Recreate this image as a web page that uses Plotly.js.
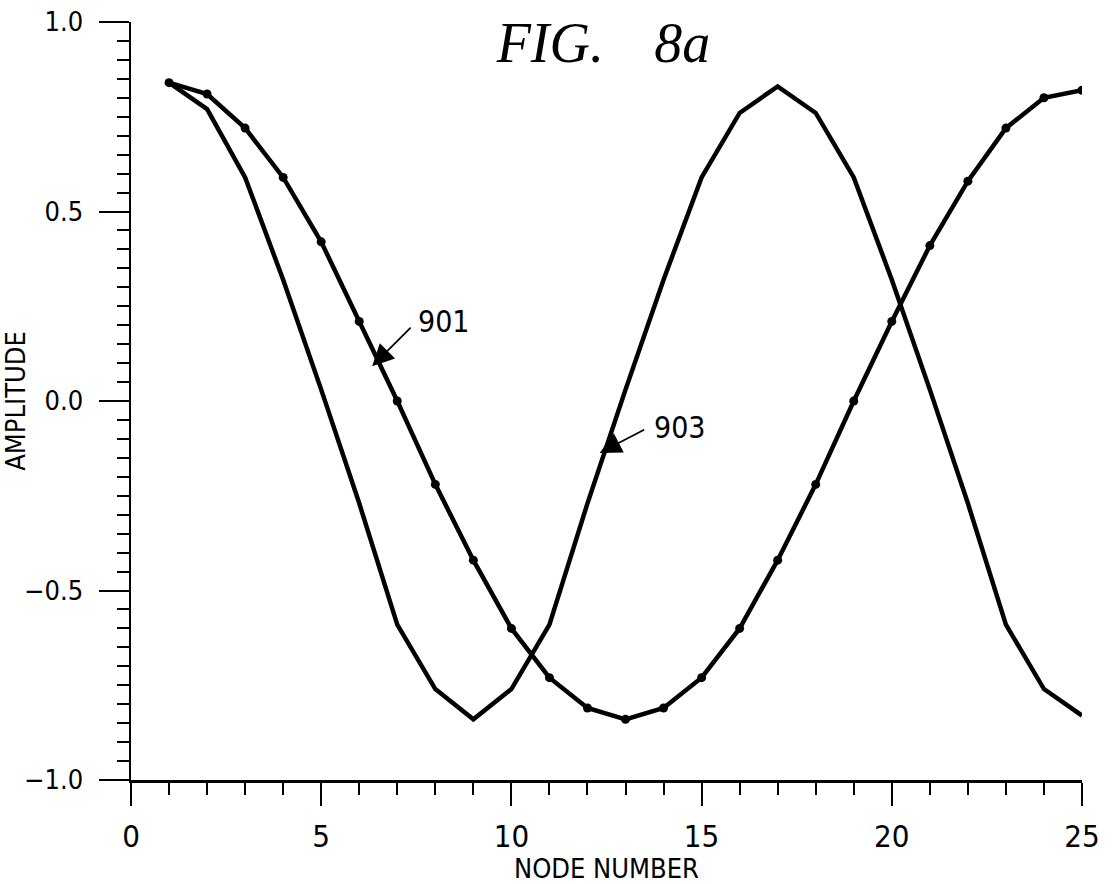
<!DOCTYPE html>
<html>
<head>
<meta charset="utf-8">
<script src="https://cdn.plot.ly/plotly-3.0.1.min.js"></script>
<style>html,body{margin:0;padding:0;background:#fff;}#chart{width:1113px;height:884px;}</style>
</head>
<body>
<div id="chart"></div>
<script>
// Node numbers
var nodes = [1,2,3,4,5,6,7,8,9,10,11,12,13,14,15,16,17,18,19,20,21,22,23,24,25];
// Curve 901 (with dots)
var amp901 = [0.84,0.81,0.72,0.59,0.42,0.21,0.00,-0.22,-0.42,-0.60,-0.73,-0.81,-0.84,-0.81,-0.73,-0.60,-0.42,-0.22,0.00,0.21,0.41,0.58,0.72,0.80,0.82];
// Curve 903 (plain line)
var amp903 = [0.84,0.77,0.59,0.32,0.03,-0.27,-0.59,-0.76,-0.84,-0.76,-0.59,-0.27,0.03,0.32,0.59,0.76,0.83,0.76,0.59,0.32,0.03,-0.27,-0.59,-0.76,-0.83];
// Tick labels
var xTicks = [0,5,10,15,20,25];
var xTickText = ['0','5','10','15','20','25'];
var yTicks = [-1.0,-0.5,0.0,0.5,1.0];
var yTickText = ['\u22121.0','\u22120.5','0.0','0.5','1.0'];

var narrow = 'DejaVu Sans Condensed, Liberation Sans Narrow, sans-serif';

var traces = [
  {x: nodes, y: amp903, mode: 'lines', line: {color: '#000', width: 4.5}, name: '903'},
  {x: nodes, y: amp901, mode: 'lines+markers', line: {color: '#000', width: 4.5},
   marker: {color: '#000', size: 9}, name: '901'}
];

var layout = {
  width: 1113, height: 884,
  margin: {l: 131, r: 31, t: 22, b: 104, pad: 0},
  paper_bgcolor: '#fff', plot_bgcolor: '#fff',
  showlegend: false,
  title: {text: 'FIG.\u00a0\u00a0\u2009\u20098a', x: (603 - 131) / 950, xanchor: 'center', xref: 'paper',
          y: 1 - 42/884, yanchor: 'middle',
          font: {family: 'Liberation Serif, Times New Roman, serif', size: 56, style: 'italic', color: '#000'}},
  xaxis: {
    range: [0, 25], autorange: false,
    tickmode: 'array', tickvals: xTicks, ticktext: xTickText,
    ticks: 'outside', ticklen: 23, tickwidth: 2, tickcolor: '#000',
    showline: true, linewidth: 2.5, linecolor: '#000',
    showgrid: false, zeroline: false,
    ticklabelstandoff: 4,
    tickfont: {family: narrow, size: 31, color: '#000'},
    minor: {dtick: 1, tick0: 0, ticks: 'outside', ticklen: 12, tickwidth: 2, tickcolor: '#000', showgrid: false},
    title: {text: 'NODE NUMBER', standoff: 3, font: {family: narrow, size: 27, color: '#000'}}
  },
  yaxis: {
    range: [-1, 1], autorange: false,
    tickmode: 'array', tickvals: yTicks, ticktext: yTickText,
    ticks: 'outside', ticklen: 30, tickwidth: 2, tickcolor: '#000',
    showline: true, linewidth: 2.5, linecolor: '#000',
    showgrid: false, zeroline: false,
    ticklabelstandoff: 10,
    tickfont: {family: narrow, size: 27, color: '#000'},
    minor: {dtick: 0.05, tick0: 0, ticks: 'outside', ticklen: 12, tickwidth: 2, tickcolor: '#000', showgrid: false},
    title: {text: 'AMPLITUDE', standoff: 0, font: {family: narrow, size: 27, color: '#000'}}
  },
  annotations: [
    {x: 6.34, y: 0.092, xref: 'x', yref: 'y', text: '', showarrow: true,
     ax: 40, ay: -40, arrowhead: 2, arrowsize: 2.4, arrowwidth: 1.8, arrowcolor: '#000'},
    {x: 7.5, y: 0.21, xref: 'x', yref: 'y', text: '901', showarrow: false, xanchor: 'left', yanchor: 'middle',
     font: {family: narrow, size: 30, color: '#000'}},
    {x: 12.32, y: -0.137, xref: 'x', yref: 'y', text: '', showarrow: true,
     ax: 46, ay: -24, arrowhead: 2, arrowsize: 2.4, arrowwidth: 1.8, arrowcolor: '#000'},
    {x: 13.7, y: -0.07, xref: 'x', yref: 'y', text: '903', showarrow: false, xanchor: 'left', yanchor: 'middle',
     font: {family: narrow, size: 30, color: '#000'}}
  ]
};

Plotly.newPlot('chart', traces, layout, {staticPlot: true, displayModeBar: false});
</script>
</body>
</html>
